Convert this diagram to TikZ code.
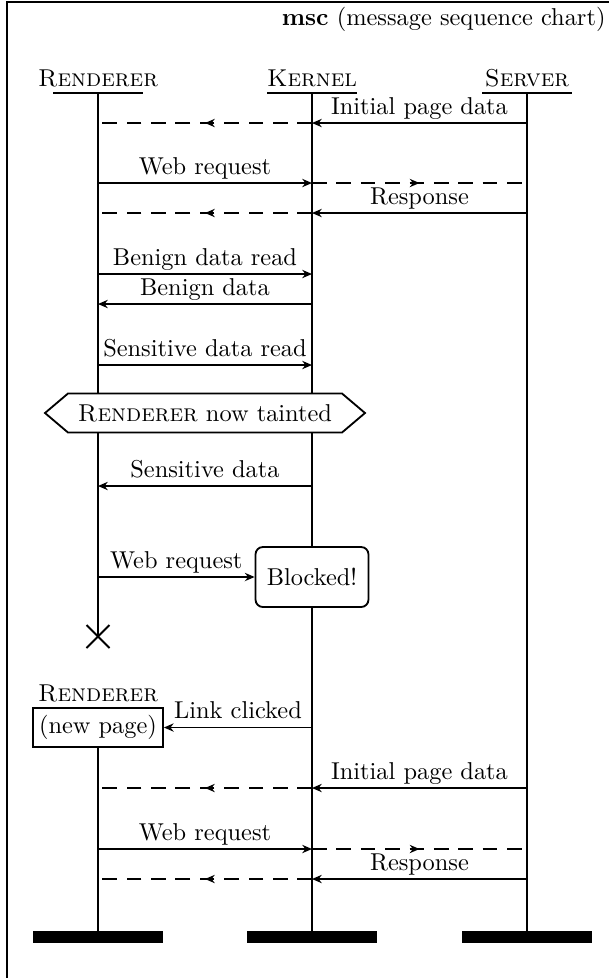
\documentclass[tikz,border=0pt]{standalone}
\usepackage{tikz}
\usetikzlibrary{arrows.meta,positioning,calc,decorations.markings}

\tikzset{
  lifeline/.style={line width=0.75pt},
  frame/.style={line width=0.85pt},
  msg/.style={line width=0.75pt,-{Stealth[length=4pt,width=3.4pt]}},
  relay/.style={line width=0.75pt,dash pattern=on 6pt off 4pt,
    postaction={decorate},
    decoration={markings,
      mark=at position 0.5 with {\arrow{Stealth[length=4pt,width=3.4pt]}}}},
  msglabel/.style={above,inner sep=1pt,text depth=2.3pt},
  instname/.style={font=\scshape,anchor=base,inner sep=0pt},
  endbar/.style={fill=black,anchor=north,minimum width=53.3pt,
    minimum height=4.9pt,inner sep=0pt},
}

\begin{document}
\begin{tikzpicture}[x=0.41pt,y=-0.41pt]
  \useasboundingbox (0,0) rectangle (609,978);
  \clip (0,0) rectangle (609,978);

  % chart frame, runs off to the right and bottom
  \draw[frame] (7,2) rectangle (700,1100);
  \node[anchor=base east,inner sep=0pt] (title) at (606,25)
    {\textbf{msc} (message sequence chart)};

  % instance heads
  \foreach \id/\x/\name in {ren/98/Renderer,ker/312/Kernel,srv/527/Server}{
    \coordinate (\id) at (\x,92.7);
    \node[instname] (\id head) at ($(\id)+(0,-6.7)$) {\name};
    \draw[lifeline] ($(\id)+(-45,0)$) -- ($(\id)+(45,0)$);
  }

  % message levels
  \foreach \n/\y in {l1/123,l2/183,l3/213,l4/274,l5/304,l6/365,
                     l7/486,l8/577,l9/727.5,l10/788,l11/849,l12/879}
    \coordinate (\n) at (0,\y);
  \coordinate (stop) at (98,636.5);
  \coordinate (bottom) at (0,931);

  % lifelines
  \draw[lifeline] (ren) -- (stop);
  \draw[lifeline] (ker) -- (ker |- bottom);
  \draw[lifeline] (srv) -- (srv |- bottom);

  % first page load
  \draw[msg] (srv |- l1) -- (ker |- l1) node[msglabel,midway] {Initial page data};
  \draw[relay] (ker |- l1) -- (ren |- l1);
  \draw[msg] (ren |- l2) -- (ker |- l2) node[msglabel,midway] {Web request};
  \draw[relay] (ker |- l2) -- (srv |- l2);
  \draw[msg] (srv |- l3) -- (ker |- l3) node[msglabel,midway] {Response};
  \draw[relay] (ker |- l3) -- (ren |- l3);

  % reads through the kernel
  \draw[msg] (ren |- l4) -- (ker |- l4) node[msglabel,midway] {Benign data read};
  \draw[msg] (ker |- l5) -- (ren |- l5) node[msglabel,midway] {Benign data};
  \draw[msg] (ren |- l6) -- (ker |- l6) node[msglabel,midway] {Sensitive data read};

  % taint condition
  \node[minimum width=130.8pt,minimum height=15.6pt,inner sep=0pt]
    (taint) at (205,413) {};
  \filldraw[lifeline,fill=white] (taint.west)
    -- ($(taint.north west)+(23,0)$) -- ($(taint.north east)+(-23,0)$)
    -- (taint.east)
    -- ($(taint.south east)+(-23,0)$) -- ($(taint.south west)+(23,0)$) -- cycle;
  \node at (taint) {\textsc{Renderer} now tainted};

  \draw[msg] (ker |- l7) -- (ren |- l7) node[msglabel,midway] {Sensitive data};

  % blocked request
  \node[draw,lifeline,fill=white,rounded corners=3pt,minimum width=46.3pt,
    minimum height=24.6pt,inner sep=2pt] (blocked) at (ker |- l8) {Blocked!};
  \draw[msg] (ren |- l8) -- (blocked.west) node[msglabel,midway] {Web request};

  % renderer stops
  \draw[lifeline] ($(stop)+(-11.5,-11.5)$) -- ($(stop)+(11.5,11.5)$);
  \draw[lifeline] ($(stop)+(-11.5,11.5)$) -- ($(stop)+(11.5,-11.5)$);

  % new renderer instance
  \node[draw,lifeline,minimum width=53.3pt,minimum height=16pt,inner sep=0pt]
    (newren) at (ren |- l9) {(new page)};
  \node[instname] (newren head) at ($(newren.north)+(0,-6)$) {Renderer};
  \draw[lifeline] (newren.south) -- (newren |- bottom);
  \draw[msg] (ker |- l9) -- (newren.east) node[msglabel,midway] {Link clicked};

  % second page load
  \draw[msg] (srv |- l10) -- (ker |- l10) node[msglabel,midway] {Initial page data};
  \draw[relay] (ker |- l10) -- (ren |- l10);
  \draw[msg] (ren |- l11) -- (ker |- l11) node[msglabel,midway] {Web request};
  \draw[relay] (ker |- l11) -- (srv |- l11);
  \draw[msg] (srv |- l12) -- (ker |- l12) node[msglabel,midway] {Response};
  \draw[relay] (ker |- l12) -- (ren |- l12);

  % instance ends
  \node[endbar] (renend) at (ren |- bottom) {};
  \node[endbar] (kerend) at (ker |- bottom) {};
  \node[endbar] (srvend) at (srv |- bottom) {};
\end{tikzpicture}
\end{document}
